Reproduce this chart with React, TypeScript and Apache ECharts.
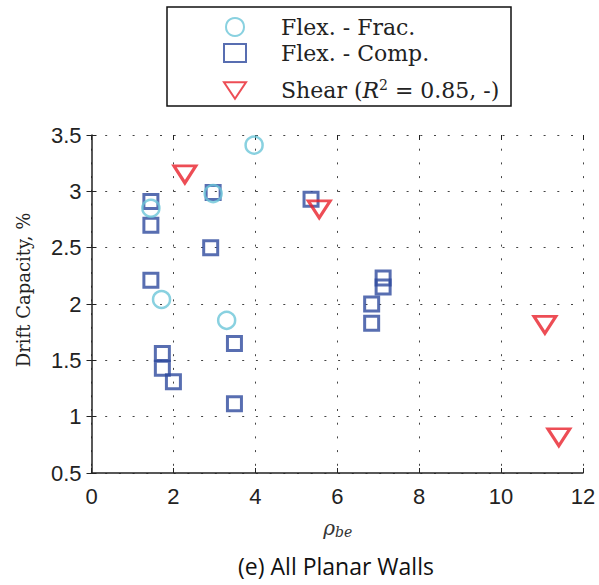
import React, { useEffect, useRef } from "react";
import * as echarts from "echarts";

const fracX = [3.97, 2.97, 1.45, 1.71, 3.3];
const fracY = [3.41, 2.98, 2.85, 2.04, 1.855];

const compX = [1.45, 1.45, 2.97, 2.91, 1.45, 1.73, 1.73, 2.0, 3.49, 3.49, 5.36, 7.12, 7.12, 6.84, 6.84];
const compY = [2.91, 2.7, 2.99, 2.5, 2.21, 1.56, 1.43, 1.31, 1.65, 1.115, 2.93, 2.23, 2.15, 2.0, 1.83];

const shearX = [2.28, 5.56, 11.07, 11.41];
const shearY = [3.15, 2.84, 1.815, 0.817];

const xTicks = [0, 2, 4, 6, 8, 10, 12];
const yTicks = [0.5, 1, 1.5, 2, 2.5, 3, 3.5];

const zip = (xs: number[], ys: number[]) => xs.map((x, i) => [x, ys[i]]);

export default function App() {
  const ref = useRef<HTMLDivElement>(null);
  useEffect(() => {
    const chart = echarts.init(ref.current!, null, { renderer: "svg" });
    const grid = {
      color: "#444",
      width: 1,
      type: [2, 11.7] as any,
    };
    const serif = "DejaVu Serif";
    const tickFont = { fontFamily: "Liberation Sans", fontSize: 22, color: "#222" };
    const legendText = {
      padding: [0, 0, 0, 30],
      rich: {
        t: { fontFamily: serif, fontSize: 22, color: "#222" },
        i: { fontFamily: serif, fontSize: 22, fontStyle: "italic", color: "#222" },
        s: { fontFamily: serif, fontSize: 14, color: "#222", padding: [0, 0, 11, 0] },
      },
    };
    const fmt = (name: string) =>
      name === "Shear"
        ? "{t|Shear (}{i|R}{s|2}{t| = 0.85, -)}"
        : "{t|" + name + "}";
    chart.setOption({
      animation: false,
      backgroundColor: "#fff",
      grid: { left: 91.5, right: 16, top: 135, bottom: 112 },
      graphic: [
        {
          type: "rect",
          shape: { x: 167, y: 7, width: 344, height: 99 },
          style: { fill: "#fff", stroke: "#111", lineWidth: 1.5 },
          z: 0,
        },
        {
          type: "text",
          x: 23,
          y: 290,
          rotation: Math.PI / 2,
          style: {
            text: "Drift Capacity, %",
            font: `18px ${serif}`,
            fill: "#222",
            align: "center",
            verticalAlign: "middle",
          },
        },
        {
          type: "text",
          x: 335,
          y: 528,
          style: {
            text: "ρ",
            font: `italic 20px ${serif}`,
            fill: "#333",
            align: "right",
            verticalAlign: "middle",
          },
        },
        {
          type: "text",
          x: 335,
          y: 532,
          style: {
            text: "be",
            font: `italic 14px ${serif}`,
            fill: "#333",
            align: "left",
            verticalAlign: "middle",
          },
        },
        {
          type: "text",
          x: 336,
          y: 566,
          style: {
            text: "(e) All Planar Walls",
            font: "23px 'Open Sans'",
            fill: "#111",
            align: "center",
            verticalAlign: "middle",
          },
        },
      ],
      legend: [
        {
          orient: "vertical",
          left: 218,
          top: 11,
          itemWidth: 22,
          itemHeight: 18,
          itemGap: 4,
          data: ["Flex. - Frac.", "Flex. - Comp."],
          formatter: fmt,
          textStyle: legendText,
        },
        {
          orient: "vertical",
          left: 218,
          top: 73,
          itemWidth: 22,
          itemHeight: 18,
          data: ["Shear"],
          formatter: fmt,
          textStyle: legendText,
        },
      ],
      xAxis: [
        {
          type: "value",
          min: 0,
          max: 12,
          interval: 2,
          axisLine: { show: true, lineStyle: { color: "#222", width: 1.5 } },
          axisTick: { show: true, inside: true, length: 5, lineStyle: { color: "#222" } },
          axisLabel: { ...tickFont, margin: 12 },
          splitLine: { show: true, lineStyle: grid },
        },
        {
          type: "value",
          position: "top",
          min: 0,
          max: 12,
          interval: 2,
          axisLine: { show: false },
          axisTick: { show: true, inside: true, length: 5, lineStyle: { color: "#222" } },
          axisLabel: { show: false },
          splitLine: { show: false },
        },
      ],
      yAxis: [
        {
          type: "value",
          min: 0.5,
          max: 3.5,
          interval: 0.5,
          axisLine: { show: true, lineStyle: { color: "#222", width: 1.5 } },
          axisTick: { show: true, inside: true, length: 5, lineStyle: { color: "#222" } },
          axisLabel: { ...tickFont, margin: 10 },
          splitLine: { show: true, lineStyle: grid },
        },
        {
          type: "value",
          position: "right",
          min: 0.5,
          max: 3.5,
          interval: 0.5,
          axisLine: { show: false },
          axisTick: { show: true, inside: true, length: 5, lineStyle: { color: "#222" } },
          axisLabel: { show: false },
          splitLine: { show: false },
        },
      ],
      series: [
        {
          name: "Flex. - Comp.",
          type: "scatter",
          symbol: "rect",
          symbolSize: 14,
          z: 2,
          itemStyle: { color: "rgba(255,255,255,0)", borderColor: "#2E4A9E", borderWidth: 3 },
          data: zip(compX, compY),
        },
        {
          name: "Flex. - Frac.",
          type: "scatter",
          symbol: "circle",
          symbolSize: 17,
          z: 3,
          itemStyle: { color: "rgba(255,255,255,0)", borderColor: "#6CC5D8", borderWidth: 2.5 },
          data: zip(fracX, fracY),
        },
        {
          name: "Shear",
          type: "scatter",
          symbol: "path://M0,0 L24,0 L12,18 Z",
          symbolSize: [22, 17],
          z: 4,
          itemStyle: { color: "rgba(255,255,255,0)", borderColor: "#E8202A", borderWidth: 3 },
          data: zip(shearX, shearY),
        },
      ],
    });
    return () => chart.dispose();
  }, []);
  return <div ref={ref} style={{ width: 599, height: 585, position: "absolute", left: 0, top: 0 }} />;
}
